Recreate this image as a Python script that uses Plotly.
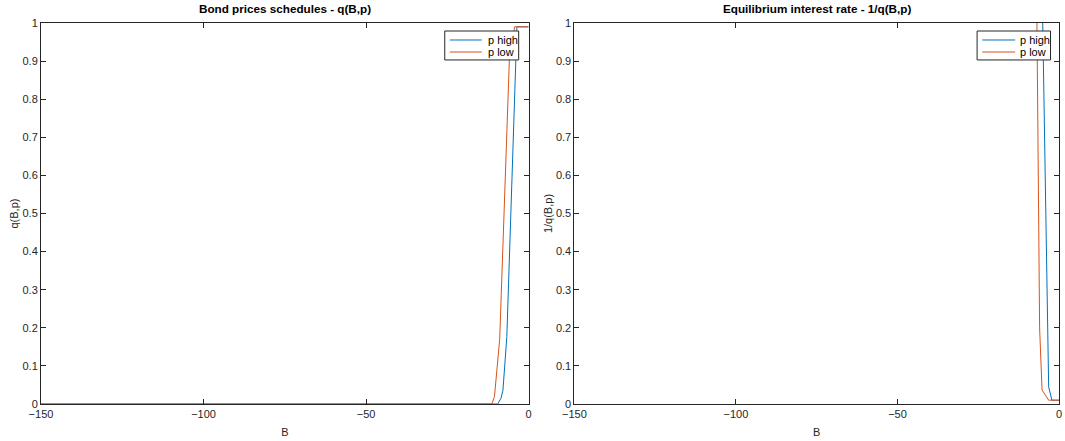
import plotly.graph_objects as go
from plotly.subplots import make_subplots

# Bond price schedules q(B,p)
b_q_high = [-150, -9.5, -8.5, -7.9, -6.7, -4.0, -3.6, 0]
q_high = [0, 0, 0.015, 0.036, 0.177, 0.94, 0.99, 0.99]
b_q_low = [-150, -11.3, -10.5, -8.9, -5.9, -4.3, 0]
q_low = [0, 0, 0.02, 0.17, 0.91, 0.99, 0.99]

# Equilibrium interest rate (values above 1 run off the top of the axes)
b_r_high = [-6.0, -3.2, -2.2, 0]
r_high = [1.5, 0.045, 0.01, 0.01]
b_r_low = [-7.5, -6.0, -5.25, -3.2, 0]
r_low = [1.65, 0.2, 0.037, 0.01, 0.01]

x_ticks = [-150, -100, -50, 0]
y_ticks = [0, 0.1, 0.2, 0.3, 0.4, 0.5, 0.6, 0.7, 0.8, 0.9, 1]
series_names = ["p high", "p low"]

BLUE = "#0072BD"
ORANGE = "#D95319"
AX = "#262626"
FONT = "Liberation Sans, Arial, sans-serif"

fig = make_subplots(rows=1, cols=2)

fig.add_trace(go.Scatter(x=b_q_high, y=q_high, mode="lines", name=series_names[0],
                         line=dict(color=BLUE, width=1)), row=1, col=1)
fig.add_trace(go.Scatter(x=b_q_low, y=q_low, mode="lines", name=series_names[1],
                         line=dict(color=ORANGE, width=1)), row=1, col=1)
fig.add_trace(go.Scatter(x=b_r_high, y=r_high, mode="lines", name=series_names[0],
                         line=dict(color=BLUE, width=1)), row=1, col=2)
fig.add_trace(go.Scatter(x=b_r_low, y=r_low, mode="lines", name=series_names[1],
                         line=dict(color=ORANGE, width=1)), row=1, col=2)

axis_style = dict(showline=True, linecolor=AX, linewidth=1, mirror="ticks",
                  ticks="inside", ticklen=5, tickcolor=AX, showgrid=False,
                  zeroline=False, tickfont=dict(size=11, color=AX))

fig.update_xaxes(**axis_style, range=[-150, 0], tickvals=x_ticks,
                 title=dict(text="B", font=dict(size=11, color=AX), standoff=9))
fig.update_yaxes(**axis_style, range=[0, 1], tickvals=y_ticks,
                 ticktext=[f"{v:g}" for v in y_ticks])
fig.update_yaxes(title=dict(text="q(B,p)", font=dict(size=11, color=AX), standoff=1), row=1, col=1)
fig.update_yaxes(title=dict(text="1/q(B,p)", font=dict(size=11, color=AX), standoff=1), row=1, col=2)

# MATLAB-style compact legends, one per axes
shapes = []
annotations = []
legend_boxes = {"": (0.828, 0.9796, 0.8384, 0.9039, 0.9135),
                "2": (0.831, 0.9825, 0.8416, 0.9095, 0.9156)}
for ax, (bx0, bx1, lx0, lx1, tx) in legend_boxes.items():
    xr, yr = f"x{ax} domain", f"y{ax} domain"
    shapes.append(dict(type="rect", xref=xr, yref=yr, x0=bx0, x1=bx1, y0=0.903, y1=0.979,
                       line=dict(color=AX, width=1), fillcolor="white", layer="above"))
    for name, color, ly in zip(series_names, [BLUE, ORANGE], [0.9554, 0.9239]):
        shapes.append(dict(type="line", xref=xr, yref=yr, x0=lx0, x1=lx1, y0=ly, y1=ly,
                           line=dict(color=color, width=1), layer="above"))
        annotations.append(dict(text=name, xref=xr, yref=yr, x=tx, y=ly, xanchor="left",
                                yanchor="middle", showarrow=False,
                                font=dict(size=11, color="black")))

annotations += [
    dict(text="<b>Bond prices schedules - q(B,p)</b>", x=0.5, y=1, xref="x domain",
         yref="y domain", xanchor="center", yanchor="bottom", showarrow=False,
         font=dict(size=11.7, color="black"), yshift=6),
    dict(text="<b>Equilibrium interest rate - 1/q(B,p)</b>", x=0.5, y=1, xref="x2 domain",
         yref="y2 domain", xanchor="center", yanchor="bottom", showarrow=False,
         font=dict(size=11.7, color="black"), yshift=6),
]

fig.update_layout(
    width=1065, height=441,
    margin=dict(l=41, r=3, t=23, b=37),
    paper_bgcolor="white", plot_bgcolor="white",
    font=dict(family=FONT, size=11, color=AX),
    showlegend=False,
    xaxis=dict(domain=[0, 0.479]),
    xaxis2=dict(domain=[0.524, 1]),
    shapes=shapes,
    annotations=annotations,
)

fig.write_html("out.html", config={"displayModeBar": False},
               post_script="document.body.style.margin='0';")
